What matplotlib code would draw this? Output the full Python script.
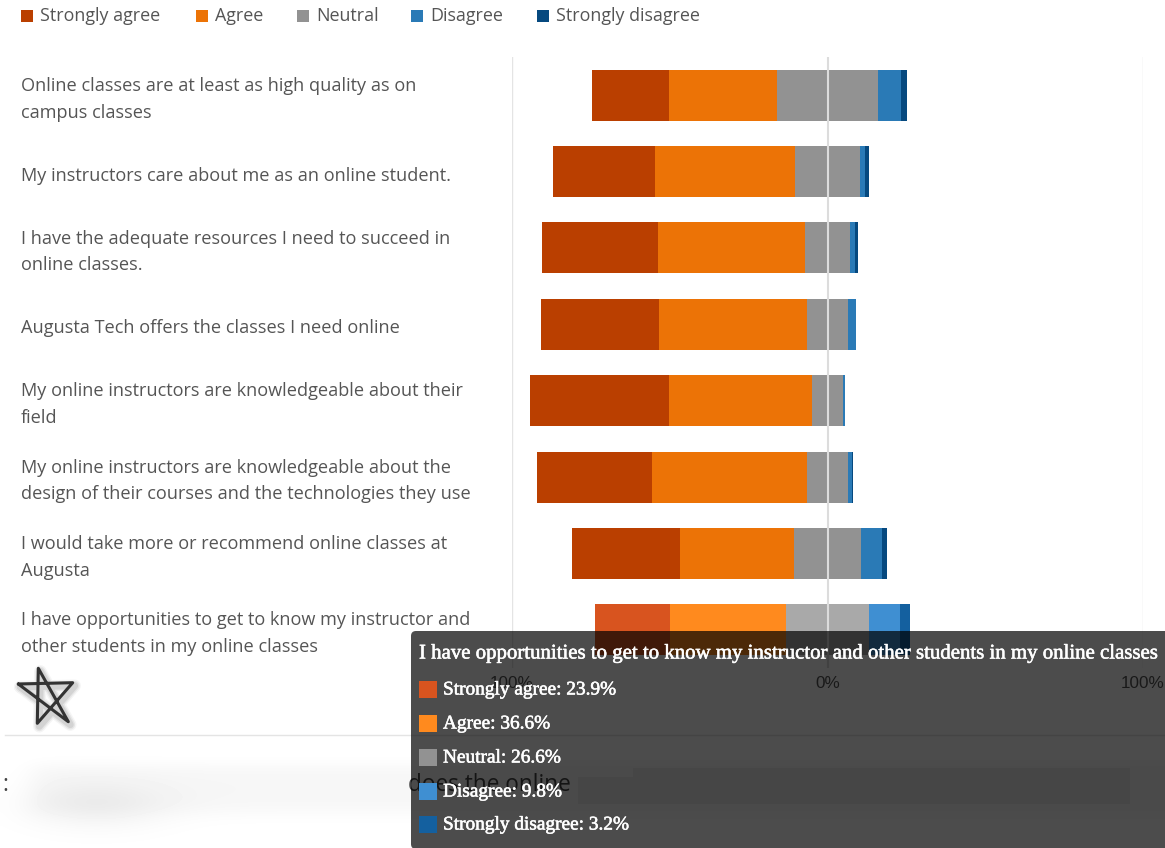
import numpy as np
import matplotlib
matplotlib.use("Agg")
import matplotlib.pyplot as plt
from matplotlib.patches import Rectangle, FancyBboxPatch
import matplotlib.patheffects as pe

questions = [
    "Online classes are at least as high quality as on\ncampus classes",
    "My instructors care about me as an online student.",
    "I have the adequate resources I need to succeed in\nonline classes.",
    "Augusta Tech offers the classes I need online",
    "My online instructors are knowledgeable about their\nfield",
    "My online instructors are knowledgeable about the\ndesign of their courses and the technologies they use",
    "I would take more or recommend online classes at\nAugusta",
    "I have opportunities to get to know my instructor and\nother students in my online classes",
]
series_names = ["Strongly agree", "Agree", "Neutral", "Disagree", "Strongly disagree"]
strongly_agree = [24.6, 32.3, 36.7, 37.6, 44.3, 36.4, 34.3, 23.9]
agree = [34.2, 44.4, 46.7, 46.7, 45.2, 49.2, 36.3, 36.6]
neutral = [32.0, 20.4, 14.0, 13.2, 9.9, 12.7, 21.0, 26.6]
disagree = [7.3, 1.7, 1.8, 2.4, 0.5, 1.5, 6.9, 9.8]
strongly_disagree = [1.9, 1.2, 0.8, 0.1, 0.1, 0.2, 1.5, 3.2]
tick_values = [-100, 0, 100]
tick_labels = ["100%", "0%", "100%"]

colors = ["#BA3F00", "#EC7306", "#929292", "#2A7AB6", "#06497F"]
hover_colors = ["#D8541F", "#FF8A1E", "#A9A9A9", "#3F8FD2", "#14609F"]
hovered = 7

W, H = 1165, 848
TEXT = ["Open Sans", "DejaVu Sans"]

fig = plt.figure(figsize=(W / 100, H / 100), dpi=100, facecolor="white")

# chart area, -100% to 100%
ax = fig.add_axes([512 / W, 1 - 668 / H, 631 / W, 611 / H], zorder=1)
values = [strongly_agree, agree, neutral, disagree, strongly_disagree]
y = np.arange(len(questions))
left = -(np.array(strongly_agree) + np.array(agree) + np.array(neutral) / 2)
for i, vals in enumerate(values):
    bars = ax.barh(y, vals, left=left, height=0.668, color=colors[i], linewidth=0, zorder=2)
    bars[hovered].set_facecolor(hover_colors[i])
    left = left + np.array(vals)

ax.set_xlim(-100, 100)
ax.set_ylim(len(questions) - 0.5, -0.5)
ax.set_xticks(tick_values)
ax.set_xticklabels(tick_labels, fontfamily="Liberation Sans", fontsize=12.3, color="#555555")
ax.set_yticks([])
ax.tick_params(axis="x", length=0, pad=6)
for s in ax.spines.values():
    s.set_visible(False)
ax.patch.set_alpha(0)
for v in tick_values:
    ax.axvline(v, color="#dcdcdc" if v == 0 else "#e4e4e4", lw=1.5 if v == 0 else 1, zorder=3)

for i, q in enumerate(questions):
    ax.annotate(q, xy=(0, i), xycoords=ax.get_yaxis_transform(), xytext=(21, -4),
                textcoords=("figure pixels", "offset pixels"), ha="left", va="center",
                fontfamily=TEXT, fontsize=13.1, color="#555555", linespacing=1.62,
                annotation_clip=False)

# everything else is placed in pixel coordinates
over = fig.add_axes([0, 0, 1, 1], zorder=2)
over.set_xlim(0, W)
over.set_ylim(H, 0)
over.axis("off")

# legend row
legend_x = [21, 196, 297, 411, 537]
for name, col, lx in zip(series_names, colors, legend_x):
    over.add_patch(Rectangle((lx, 10), 12, 12, color=col, lw=0))
    over.text(lx + 19, 16, name, fontfamily=TEXT, fontsize=12.9, color="#555555", va="center")

# star button with a soft shadow
star_x = [18.3, 72.7, 37.3, 38.3, 68.3, 18.3]
star_y = [684, 682.7, 723.3, 668.3, 721.7, 684]
for lw, a in [(9, 0.04), (7, 0.06), (5, 0.08)]:
    over.plot(np.array(star_x) + 2, np.array(star_y) + 3, color="black", lw=lw, alpha=a,
              solid_joinstyle="round", solid_capstyle="round")
over.plot(star_x, star_y, color="#333333", lw=2.2, solid_joinstyle="round", solid_capstyle="round")

# divider and the smeared out section underneath
over.plot([5, W], [735, 735], color="#e4e4e4", lw=1)
xx, yy = np.meshgrid(np.arange(0, W, 4), np.arange(738, 852, 4))
fade_top = 1 / (1 + np.exp(-(yy - 764) / 4.0))
fade_bottom = 1 / (1 + np.exp((yy - 812) / 5.0))
fade_left = 1 / (1 + np.exp(-(xx - 30) / 8.0))
shade = 1 - 0.035 * fade_top * fade_bottom * fade_left
shade = shade - 0.05 * np.exp(-((xx - 95) / 70.0) ** 2 - ((yy - 805) / 24.0) ** 2)
over.imshow(shade, cmap="gray", vmin=0, vmax=1, extent=(0, W, 852, 738), aspect="auto",
            interpolation="bicubic", zorder=1)
over.set_xlim(0, W)
over.set_ylim(H, 0)
over.add_patch(Rectangle((578, 777), 56, 27, color="#ececec", lw=0, zorder=1.5))
over.add_patch(Rectangle((633, 768), 497, 36, color="#ececec", lw=0, zorder=1.5))
over.text(571, 785, "does the online", fontfamily=TEXT, fontsize=16.3, color="#444444",
          ha="right", va="center", zorder=2)
over.text(2, 785, ":", fontfamily=TEXT, fontsize=16.3, color="#444444", ha="left", va="center", zorder=2)

# hover tooltip for the last row
over.add_patch(FancyBboxPatch((411, 631), 780, 218, boxstyle="round,pad=0,rounding_size=5",
                              facecolor="black", edgecolor="none", alpha=0.7, zorder=5))
soft = [pe.withStroke(linewidth=0.4, foreground="white")]
over.text(419, 654, questions[hovered].replace("\n", " "), fontfamily="Liberation Serif",
          fontsize=15.0, color="white", va="center", zorder=6, path_effects=soft)
tip_y = [690, 724, 758, 792, 825]
for i, name in enumerate(series_names):
    over.add_patch(Rectangle((419, tip_y[i] - 9), 18, 17, color=hover_colors[i] if i != 2 else "#929292",
                             lw=0, zorder=6))
    over.text(443, tip_y[i], f"{name}: {values[i][hovered]}%", fontfamily="Liberation Serif",
              fontsize=13.9, color="white", va="center", zorder=6, path_effects=soft)

plt.savefig("out.png", dpi=100)
